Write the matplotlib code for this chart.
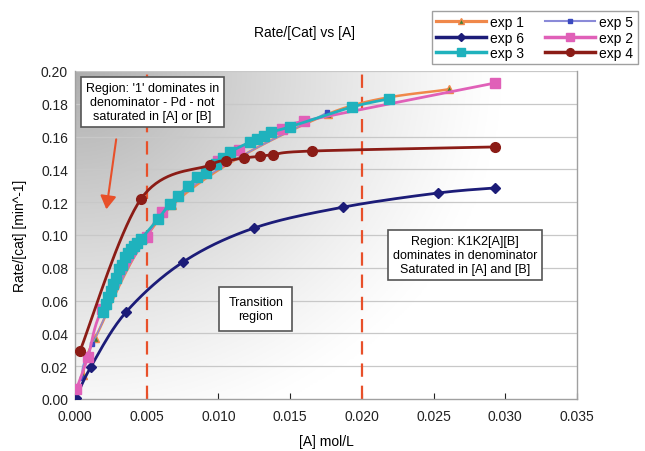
import numpy as np
import matplotlib
matplotlib.use("Agg")
import matplotlib.pyplot as plt
from matplotlib.patches import FancyArrowPatch

plt.rcParams['font.family'] = ['Liberation Sans', 'DejaVu Sans']

# ---------------- data ----------------
exp1_x = [0.00056, 0.0014, 0.00676, 0.01764, 0.0261]
exp1_y = [0.0146, 0.0372, 0.118, 0.1738, 0.189]

exp5_x = [0.0005, 0.0012, 0.0068, 0.0176]
exp5_y = [0.013, 0.0335, 0.1195, 0.175]

exp6_x = [0.00007, 0.0011, 0.00356, 0.00753, 0.0125, 0.0187, 0.0253, 0.0293]
exp6_y = [0.0006, 0.0195, 0.053, 0.0835, 0.1043, 0.117, 0.1256, 0.1287]

exp2_x = [0.0001, 0.0009, 0.0019, 0.0050, 0.0061, 0.0100, 0.0114, 0.0144, 0.0160, 0.0293]
exp2_y = [0.0061, 0.0256, 0.055, 0.0988, 0.114, 0.145, 0.152, 0.1646, 0.1695, 0.1927]

exp3_x = [0.00195, 0.00216, 0.0023, 0.0025, 0.00265, 0.00286, 0.00307, 0.00328,
          0.00349, 0.0037, 0.0039, 0.0041, 0.0043, 0.0046, 0.0058, 0.0066,
          0.0072, 0.0079, 0.0085, 0.0091, 0.0098, 0.0103, 0.0108, 0.0122,
          0.0127, 0.0132, 0.0137, 0.0150, 0.0193, 0.0219]
exp3_y = [0.053, 0.058, 0.062, 0.066, 0.070, 0.074, 0.079, 0.082,
          0.0866, 0.089, 0.0915, 0.093, 0.095, 0.0976, 0.1098, 0.119,
          0.124, 0.130, 0.1354, 0.1378, 0.1433, 0.147, 0.1506, 0.1567,
          0.1585, 0.1604, 0.1628, 0.166, 0.178, 0.183]

exp4_x = [0.00035, 0.0046, 0.0094, 0.0105, 0.0118, 0.0129, 0.0138, 0.0165, 0.0293]
exp4_y = [0.0293, 0.122, 0.1427, 0.1451, 0.147, 0.148, 0.149, 0.1512, 0.1537]

x_ticks = [0.000, 0.005, 0.010, 0.015, 0.020, 0.025, 0.030, 0.035]
y_ticks = [0.00, 0.02, 0.04, 0.06, 0.08, 0.10, 0.12, 0.14, 0.16, 0.18, 0.20]
vlines = [0.005, 0.020]


def smooth(xs, ys, n=20):
    """Catmull-Rom path through the points (Excel-style smoothed line)."""
    P = np.column_stack([xs, ys]).astype(float)
    if len(P) < 3:
        return P[:, 0], P[:, 1]
    ext = np.vstack([P[0], P, P[-1]])
    out = []
    t = np.linspace(0, 1, n)[:, None]
    for i in range(1, len(ext) - 2):
        p0, p1, p2, p3 = ext[i - 1], ext[i], ext[i + 1], ext[i + 2]
        seg = 0.5 * ((2 * p1) + (-p0 + p2) * t + (2 * p0 - 5 * p1 + 4 * p2 - p3) * t ** 2
                     + (-p0 + 3 * p1 - 3 * p2 + p3) * t ** 3)
        out.append(seg if i == 1 else seg[1:])
    out = np.vstack(out)
    return out[:, 0], out[:, 1]


fig = plt.figure(figsize=(6.45, 4.52), dpi=100)
fig.patch.set_facecolor("white")
ax = fig.add_axes([75 / 645, 52 / 452, 502 / 645, 328 / 452])

ax.set_xlim(0, 0.035)
ax.set_ylim(0, 0.20)

# gradient background
gx, gy = np.meshgrid(np.linspace(0, 1, 300), np.linspace(0, 1, 200))
d = np.sqrt((gx / 0.85) ** 2 + ((1 - gy) / 1.15) ** 2)
val = 1 - 0.32 * np.clip(1 - d, 0, 1) ** 1.2
img = np.dstack([val, val, val])
ax.imshow(img, extent=[0, 0.035, 0, 0.20], aspect="auto", origin="lower", zorder=0)

for yv in y_ticks[1:]:
    ax.axhline(yv, color="#c8c8c8", lw=0.9, zorder=1)

series = [
    ("exp 1", exp1_x, exp1_y, "#f0884a", 1.8, "^", "#3f7f35", "#f0884a", 6),
    ("exp 5", exp5_x, exp5_y, "#8a8ad8", 1.0, "s", "#3a4ac0", "#3a4ac0", 3),
    ("exp 6", exp6_x, exp6_y, "#1c1c78", 2.0, "D", "#1c1c78", "#1c1c78", 5),
    ("exp 2", exp2_x, exp2_y, "#e060b8", 2.0, "s", "#e060b8", "#e060b8", 7),
    ("exp 3", exp3_x, exp3_y, "#1fb2bd", 2.0, "s", "#1fb2bd", "#1fb2bd", 7),
    ("exp 4", exp4_x, exp4_y, "#8b1c16", 2.0, "o", "#8b1c16", "#8b1c16", 7),
]
handles = {}
for i, (name, xs, ys, lc, lw, mk, mfc, mec, ms) in enumerate(series):
    sx, sy = smooth(xs, ys)
    ax.plot(sx, sy, color=lc, lw=lw, zorder=3 + i, solid_capstyle="round")
    ax.plot(xs, ys, ls="none", marker=mk, mfc=mfc, mec=mec, ms=ms, zorder=3 + i)
    h, = ax.plot([], [], color=lc, lw=lw + 0.5, marker=mk, mfc=mfc, mec=mec, ms=ms * 0.8)
    handles[name] = h

for xv in vlines:
    ax.axvline(xv, color="#e8502a", lw=1.6, ls=(0, (6, 4)), zorder=2)

ax.set_xticks(x_ticks)
ax.set_xticklabels([f"{v:.3f}" for v in x_ticks])
ax.set_yticks(y_ticks)
ax.set_yticklabels([f"{v:.2f}" for v in y_ticks])
ax.tick_params(axis="both", labelsize=10, colors="#222222", length=4)
ax.tick_params(axis="x", direction="in", pad=7)
ax.tick_params(axis="y", length=0, pad=5)
ax.spines["top"].set_visible(False)
for s in ["left", "right", "bottom"]:
    ax.spines[s].set_color("#a0a0a0")
    ax.spines[s].set_linewidth(1.0)

ax.set_xlabel("[A] mol/L", fontsize=10, labelpad=8)
ax.set_ylabel("Rate/[cat] [min^-1]", fontsize=10, labelpad=10)
fig.text(305 / 645, 1 - 33 / 452, "Rate/[Cat] vs [A]", ha="center", va="center", fontsize=10)

box = dict(boxstyle="square,pad=0.4", fc="white", ec="#555555", lw=1.2)
ax.text(0.0054, 0.181, "Region: '1' dominates in\ndenominator - Pd - not\nsaturated in [A] or [B]",
        ha="center", va="center", fontsize=9, bbox=box, zorder=20, linespacing=1.25)
ax.text(0.0126, 0.0549, "Transition\nregion", ha="center", va="center", fontsize=9,
        bbox=dict(boxstyle="square,pad=0.7", fc="white", ec="#555555", lw=1.2), zorder=20,
        linespacing=1.25)
ax.text(0.0272, 0.0878, "Region: K1K2[A][B]\ndominates in denominator\nSaturated in [A] and [B]",
        ha="center", va="center", fontsize=9, bbox=box, zorder=20, linespacing=1.25)

arr = FancyArrowPatch((0.0029, 0.160), (0.00216, 0.114), arrowstyle="-|>,head_length=5,head_width=3",
                      color="#e8502a", lw=1.5, mutation_scale=1.6, zorder=21)
ax.add_patch(arr)

order = ["exp 1", "exp 6", "exp 3", "exp 5", "exp 2", "exp 4"]
leg = fig.legend([handles[k] for k in order], order, ncol=2,
                 loc="upper left", bbox_to_anchor=(425 / 645, 1 - 5 / 452),
                 fontsize=10, frameon=True, fancybox=False, edgecolor="#888888",
                 handlelength=3.6, columnspacing=1.5, labelspacing=0.1,
                 borderpad=0.3, handletextpad=0.3)
leg.get_frame().set_linewidth(1.0)

fig.savefig("out.png", dpi=100, facecolor="white")
